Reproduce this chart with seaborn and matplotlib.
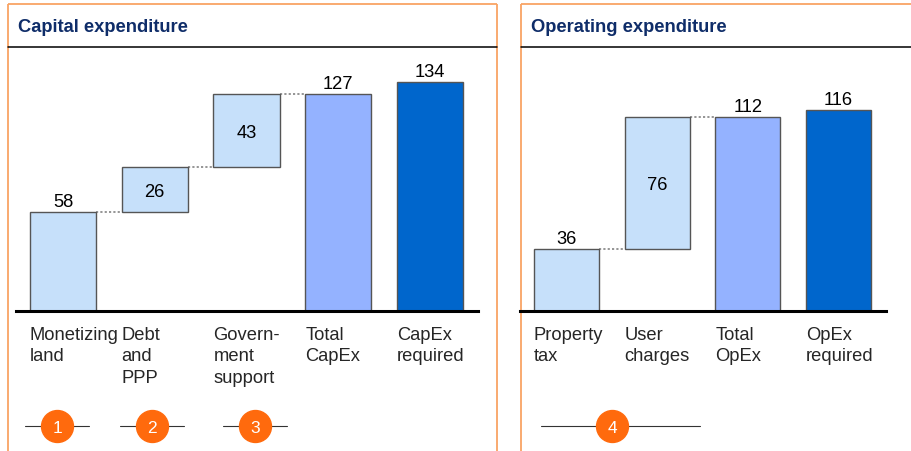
import matplotlib
matplotlib.use("Agg")
import matplotlib.pyplot as plt
import matplotlib.transforms as mtransforms
import seaborn as sns
import pandas as pd

# ---- data -------------------------------------------------------------
capex_labels = ["Monetizing\nland", "Debt\nand\nPPP", "Govern-\nment\nsupport",
                "Total\nCapEx", "CapEx\nrequired"]
capex_values = [58, 26, 43, 127, 134]
capex_kinds = ["step", "step", "step", "total", "required"]

opex_labels = ["Property\ntax", "User\ncharges", "Total\nOpEx", "OpEx\nrequired"]
opex_values = [36, 76, 112, 116]
opex_kinds = ["step", "step", "total", "required"]

capex_markers = ["1", "2", "3"]
opex_markers = ["4"]

# ---- styling ----------------------------------------------------------
sns.set_style("white")
plt.rcParams["font.family"] = ["Liberation Sans", "DejaVu Sans"]

KIND_COLORS = {"step": "#C6E0FA", "total": "#94B2FF", "required": "#0066CC"}
EDGE = "#555555"
BORDER = "#F9A464"
BADGE = "#FF6A0D"
TITLE = "#0F2D69"
BAR_W = 0.72
FS = 13.2

W, H = 912, 452
fig = plt.figure(figsize=(W / 100, H / 100), dpi=100)

# overlay in figure-pixel coordinates for frames and titles
ov = fig.add_axes([0, 0, 1, 1], zorder=0)
ov.set_xlim(0, W)
ov.set_ylim(H, 0)
ov.axis("off")


def frame(x0, x1, title):
    kw = dict(color=BORDER, lw=1.3, solid_capstyle="butt")
    ov.plot([x0, x1], [5, 5], **kw)
    ov.plot([x0, x0], [5, H], **kw)
    if x1 < W:
        ov.plot([x1, x1], [5, H], **kw)
    ov.plot([x0, x1], [48, 48], color="black", lw=1.1)
    ov.text(x0 + 10, 27, title, fontsize=FS, fontweight="bold", color=TITLE,
            ha="left", va="center")


frame(8, 497, "Capital expenditure")
frame(521, W + 2, "Operating expenditure")


def waterfall(rect, labels, values, kinds, ymax, xlim, badges):
    ax = fig.add_axes([rect[0] / W, 1 - rect[3] / H,
                       (rect[1] - rect[0]) / W, (rect[3] - rect[2]) / H],
                      zorder=1)
    ax.patch.set_alpha(0)

    # floating bases for the step bars, totals stand on zero
    bottoms, running = [], 0
    for v, k in zip(values, kinds):
        if k == "step":
            bottoms.append(running)
            running += v
        else:
            bottoms.append(0)
    tops = [b + v for b, v in zip(bottoms, values)]

    df = pd.DataFrame({"label": labels, "top": tops, "kind": kinds})
    palette = {lab: KIND_COLORS[k] for lab, k in zip(labels, kinds)}
    sns.barplot(data=df, x="label", y="top", hue="label", palette=palette,
                legend=False, width=BAR_W, edgecolor=EDGE, linewidth=1,
                saturation=1, ax=ax)

    patches = sorted(ax.patches, key=lambda p: p.get_x())
    for p, b, v in zip(patches, bottoms, values):
        p.set_y(b)
        p.set_height(v)

    # dotted connectors from each step to the next bar
    for i, k in enumerate(kinds[:-1]):
        if k == "step":
            ax.plot([i + BAR_W / 2, i + 1 - BAR_W / 2], [tops[i], tops[i]],
                    color="#8C8C8C", lw=1.3, ls=(0, (1.2, 1.2)), zorder=0.5)

    # value labels
    for i, (b, v) in enumerate(zip(bottoms, values)):
        if b > 0:
            ax.text(i, b + v / 2, f"{v}", ha="center", va="center_baseline",
                    fontsize=FS, color="black")
        else:
            ax.annotate(f"{v}", (i, b + v), xytext=(0, 6),
                        textcoords="offset pixels", ha="center",
                        va="baseline", fontsize=FS, color="black")

    ax.set_xlim(*xlim)
    ax.set_ylim(0, ymax)
    ax.set_xticks([i - BAR_W / 2 for i in range(len(labels))])
    ax.set_xticklabels(labels, ha="left", fontsize=FS, linespacing=1.36)
    ax.tick_params(axis="x", length=0, pad=10.5)
    ax.set_yticks([])
    ax.set_xlabel("")
    ax.set_ylabel("")
    for s in ("left", "right", "top"):
        ax.spines[s].set_visible(False)
    ax.spines["bottom"].set_color("black")
    ax.spines["bottom"].set_linewidth(2.2)

    # numbered badges below the categories
    trans = mtransforms.blended_transform_factory(ax.transData, ax.transAxes)
    ybadge = (rect[3] - 427) / (rect[3] - rect[2])
    for text, cx, (l0, l1) in badges:
        ax.plot([l0, l1], [ybadge, ybadge], color="#333333", lw=0.8,
                transform=trans, clip_on=False, zorder=2)
        ax.plot([cx], [ybadge], marker="o", ms=23, mfc=BADGE, mec=BADGE,
                transform=trans, clip_on=False, zorder=3)
        ax.text(cx, ybadge, text, color="white", fontsize=12.5, ha="center",
                va="center_baseline", transform=trans, clip_on=False,
                zorder=4)
    return ax


waterfall((16, 478, 60, 312), capex_labels, capex_values, capex_kinds,
          252 / 1.709, (-0.512, 4.523),
          [(capex_markers[0], -0.065, (-0.414, 0.283)),
           (capex_markers[1], 0.970, (0.621, 1.319)),
           (capex_markers[2], 2.098, (1.744, 2.441))])

waterfall((520, 886, 60, 312), opex_labels, opex_values, opex_kinds,
          252 / 1.73, (-0.513, 3.524),
          [(opex_markers[0], 0.502, (-0.281, 1.472))])

fig.savefig("out.png", dpi=100)
